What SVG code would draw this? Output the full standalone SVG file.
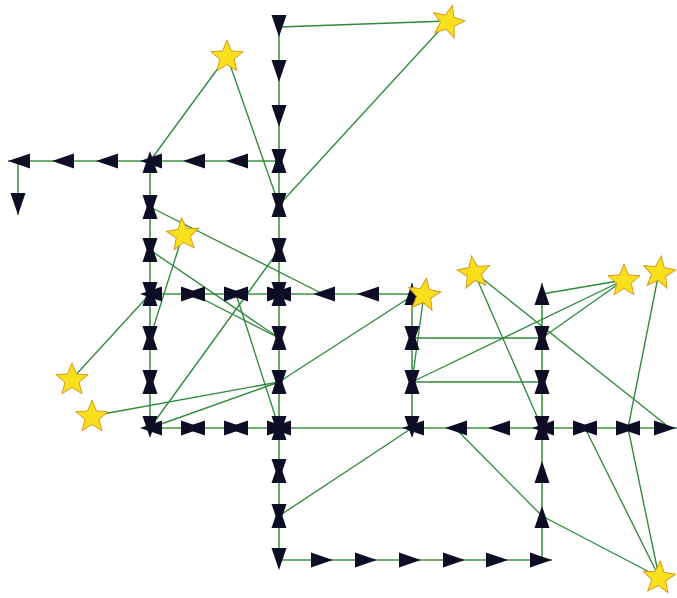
<svg xmlns="http://www.w3.org/2000/svg" width="677" height="598" viewBox="0 0 677 598">
<defs>
<style>
.g line{stroke:#2f8a3c;stroke-width:1.35;fill:none}
.k line{stroke:#3f9640;stroke-width:1.6}
.m use{fill:#0d0d26}
.s use{fill:#f8e01c;stroke:#d69a22;stroke-width:1}
</style>
<path id="a" d="M10,0 L-12,-7.5 L-12,7.5 Z"/>
<path id="st" d="M0,-17 L4.41,-6.07 L16.17,-5.25 L7.13,2.32 L9.99,13.75 L0,7.5 L-9.99,13.75 L-7.13,2.32 L-16.17,-5.25 L-4.41,-6.07 Z"/>
</defs>
<rect width="677" height="598" fill="#ffffff"/>
<g id="connectors">
<g class="k">
<line x1="279" y1="17" x2="279" y2="560"/>
<line x1="8" y1="161" x2="279" y2="161"/>
<line x1="18" y1="161" x2="18" y2="215"/>
<line x1="150" y1="161" x2="150" y2="428"/>
<line x1="150" y1="294" x2="412" y2="294"/>
<line x1="412" y1="283" x2="412" y2="428"/>
<line x1="150" y1="428" x2="677" y2="428"/>
<line x1="542" y1="283" x2="542" y2="560"/>
<line x1="279" y1="560" x2="552" y2="560"/>
</g>
<g class="g">
<line x1="279" y1="27" x2="448" y2="21"/>
<line x1="279" y1="205" x2="448" y2="21"/>
<line x1="150" y1="161" x2="227" y2="56"/>
<line x1="279" y1="205" x2="227" y2="56"/>
<line x1="150" y1="207" x2="323" y2="294"/>
<line x1="150" y1="250" x2="279" y2="338"/>
<line x1="193" y1="294" x2="279" y2="338"/>
<line x1="183" y1="234" x2="150" y2="338"/>
<line x1="279" y1="250" x2="150" y2="428"/>
<line x1="236" y1="294" x2="279" y2="428"/>
<line x1="72" y1="379" x2="150" y2="294"/>
<line x1="92" y1="416" x2="279" y2="382"/>
<line x1="150" y1="428" x2="279" y2="382"/>
<line x1="279" y1="382" x2="412" y2="296"/>
<line x1="424" y1="294" x2="412" y2="382"/>
<line x1="412" y1="338" x2="542" y2="338"/>
<line x1="412" y1="382" x2="542" y2="382"/>
<line x1="412" y1="382" x2="624" y2="280"/>
<line x1="542" y1="338" x2="624" y2="280"/>
<line x1="542" y1="294" x2="624" y2="280"/>
<line x1="474" y1="272" x2="542" y2="428"/>
<line x1="474" y1="272" x2="670" y2="428"/>
<line x1="659" y1="272" x2="628" y2="428"/>
<line x1="659" y1="577" x2="628" y2="428"/>
<line x1="659" y1="577" x2="585" y2="428"/>
<line x1="659" y1="577" x2="542" y2="516"/>
<line x1="455" y1="428" x2="542" y2="516"/>
<line x1="412" y1="428" x2="279" y2="516"/>
</g>
</g>
<g id="markers" class="m">
<g id="n279-27"><use href="#a" transform="translate(279,27) rotate(90)"/></g>
<g id="n279-72"><use href="#a" transform="translate(279,72) rotate(90)"/></g>
<g id="n279-117"><use href="#a" transform="translate(279,117) rotate(90)"/></g>
<g id="n279-161"><use href="#a" transform="translate(279,161) rotate(90)"/><use href="#a" transform="translate(279,161) rotate(270)"/></g>
<g id="n279-205"><use href="#a" transform="translate(279,205) rotate(90)"/><use href="#a" transform="translate(279,205) rotate(270)"/></g>
<g id="n279-250"><use href="#a" transform="translate(279,250) rotate(90)"/><use href="#a" transform="translate(279,250) rotate(270)"/></g>
<g id="n279-294"><use href="#a" transform="translate(279,294) rotate(90)"/><use href="#a" transform="translate(279,294) rotate(270)"/><use href="#a" transform="translate(279,294)"/><use href="#a" transform="translate(279,294) rotate(180)"/></g>
<g id="n279-338"><use href="#a" transform="translate(279,338) rotate(90)"/><use href="#a" transform="translate(279,338) rotate(270)"/></g>
<g id="n279-382"><use href="#a" transform="translate(279,382) rotate(90)"/><use href="#a" transform="translate(279,382) rotate(270)"/></g>
<g id="n279-428"><use href="#a" transform="translate(279,428) rotate(90)"/><use href="#a" transform="translate(279,428) rotate(270)"/><use href="#a" transform="translate(279,428)"/><use href="#a" transform="translate(279,428) rotate(180)"/></g>
<g id="n279-471"><use href="#a" transform="translate(279,471) rotate(90)"/><use href="#a" transform="translate(279,471) rotate(270)"/></g>
<g id="n279-516"><use href="#a" transform="translate(279,516) rotate(90)"/><use href="#a" transform="translate(279,516) rotate(270)"/></g>
<g id="n279-560"><use href="#a" transform="translate(279,560) rotate(90)"/></g>
<g id="n236-161"><use href="#a" transform="translate(236,161) rotate(180)"/></g>
<g id="n193-161"><use href="#a" transform="translate(193,161) rotate(180)"/></g>
<g id="n150-161"><use href="#a" transform="translate(150,161) rotate(180)"/><use href="#a" transform="translate(150,161) rotate(270)"/></g>
<g id="n106-161"><use href="#a" transform="translate(106,161) rotate(180)"/></g>
<g id="n62-161"><use href="#a" transform="translate(62,161) rotate(180)"/></g>
<g id="n18-161"><use href="#a" transform="translate(18,161) rotate(180)"/></g>
<g id="n18-205"><use href="#a" transform="translate(18,205) rotate(90)"/></g>
<g id="n150-207"><use href="#a" transform="translate(150,207) rotate(90)"/><use href="#a" transform="translate(150,207) rotate(270)"/></g>
<g id="n150-250"><use href="#a" transform="translate(150,250) rotate(90)"/><use href="#a" transform="translate(150,250) rotate(270)"/></g>
<g id="n150-294"><use href="#a" transform="translate(150,294) rotate(90)"/><use href="#a" transform="translate(150,294) rotate(270)"/><use href="#a" transform="translate(150,294) rotate(180)"/></g>
<g id="n150-338"><use href="#a" transform="translate(150,338) rotate(90)"/><use href="#a" transform="translate(150,338) rotate(270)"/></g>
<g id="n150-382"><use href="#a" transform="translate(150,382) rotate(90)"/><use href="#a" transform="translate(150,382) rotate(270)"/></g>
<g id="n150-428"><use href="#a" transform="translate(150,428) rotate(90)"/><use href="#a" transform="translate(150,428) rotate(180)"/></g>
<g id="n193-294"><use href="#a" transform="translate(193,294)"/><use href="#a" transform="translate(193,294) rotate(180)"/></g>
<g id="n236-294"><use href="#a" transform="translate(236,294)"/><use href="#a" transform="translate(236,294) rotate(180)"/></g>
<g id="n323-294"><use href="#a" transform="translate(323,294) rotate(180)"/></g>
<g id="n367-294"><use href="#a" transform="translate(367,294) rotate(180)"/></g>
<g id="n412-294"><use href="#a" transform="translate(412,293) rotate(270)"/></g>
<g id="n412-338"><use href="#a" transform="translate(412,338) rotate(90)"/><use href="#a" transform="translate(412,338) rotate(270)"/></g>
<g id="n412-382"><use href="#a" transform="translate(412,382) rotate(90)"/><use href="#a" transform="translate(412,382) rotate(270)"/></g>
<g id="n412-428"><use href="#a" transform="translate(412,428) rotate(90)"/><use href="#a" transform="translate(412,428) rotate(180)"/></g>
<g id="n193-428"><use href="#a" transform="translate(193,428)"/><use href="#a" transform="translate(193,428) rotate(180)"/></g>
<g id="n236-428"><use href="#a" transform="translate(236,428)"/><use href="#a" transform="translate(236,428) rotate(180)"/></g>
<g id="n455-428"><use href="#a" transform="translate(455,428) rotate(180)"/></g>
<g id="n498-428"><use href="#a" transform="translate(498,428) rotate(180)"/></g>
<g id="n542-428"><use href="#a" transform="translate(542,428) rotate(90)"/><use href="#a" transform="translate(542,428) rotate(270)"/><use href="#a" transform="translate(542,428) rotate(180)"/></g>
<g id="n585-428"><use href="#a" transform="translate(585,428)"/><use href="#a" transform="translate(585,428) rotate(180)"/></g>
<g id="n628-428"><use href="#a" transform="translate(628,428)"/><use href="#a" transform="translate(628,428) rotate(180)"/></g>
<g id="n667-428"><use href="#a" transform="translate(666,428)"/></g>
<g id="n542-294"><use href="#a" transform="translate(542,293) rotate(270)"/></g>
<g id="n542-338"><use href="#a" transform="translate(542,338) rotate(90)"/><use href="#a" transform="translate(542,338) rotate(270)"/></g>
<g id="n542-382"><use href="#a" transform="translate(542,382) rotate(90)"/><use href="#a" transform="translate(542,382) rotate(270)"/></g>
<g id="n542-471"><use href="#a" transform="translate(542,471) rotate(270)"/></g>
<g id="n542-516"><use href="#a" transform="translate(542,516) rotate(270)"/></g>
<g id="n542-560"><use href="#a" transform="translate(542,560)"/></g>
<g id="n323-560"><use href="#a" transform="translate(323,560)"/></g>
<g id="n367-560"><use href="#a" transform="translate(367,560)"/></g>
<g id="n411-560"><use href="#a" transform="translate(411,560)"/></g>
<g id="n455-560"><use href="#a" transform="translate(455,560)"/></g>
<g id="n498-560"><use href="#a" transform="translate(498,560)"/></g>
</g>
<g id="stars" class="s">
<g id="star1"><use href="#st" transform="translate(448,22) rotate(15)"/></g>
<g id="star2"><use href="#st" transform="translate(227,57)"/></g>
<g id="star3"><use href="#st" transform="translate(183,235) rotate(-5)"/></g>
<g id="star4"><use href="#st" transform="translate(72,380)"/></g>
<g id="star5"><use href="#st" transform="translate(92,417)"/></g>
<g id="star6"><use href="#st" transform="translate(424,295) rotate(8)"/></g>
<g id="star7"><use href="#st" transform="translate(474,273) rotate(-8)"/></g>
<g id="star8"><use href="#st" transform="translate(624,281)"/></g>
<g id="star9"><use href="#st" transform="translate(659,273) rotate(8)"/></g>
<g id="star10"><use href="#st" transform="translate(659,578) rotate(5)"/></g>
</g>
</svg>
